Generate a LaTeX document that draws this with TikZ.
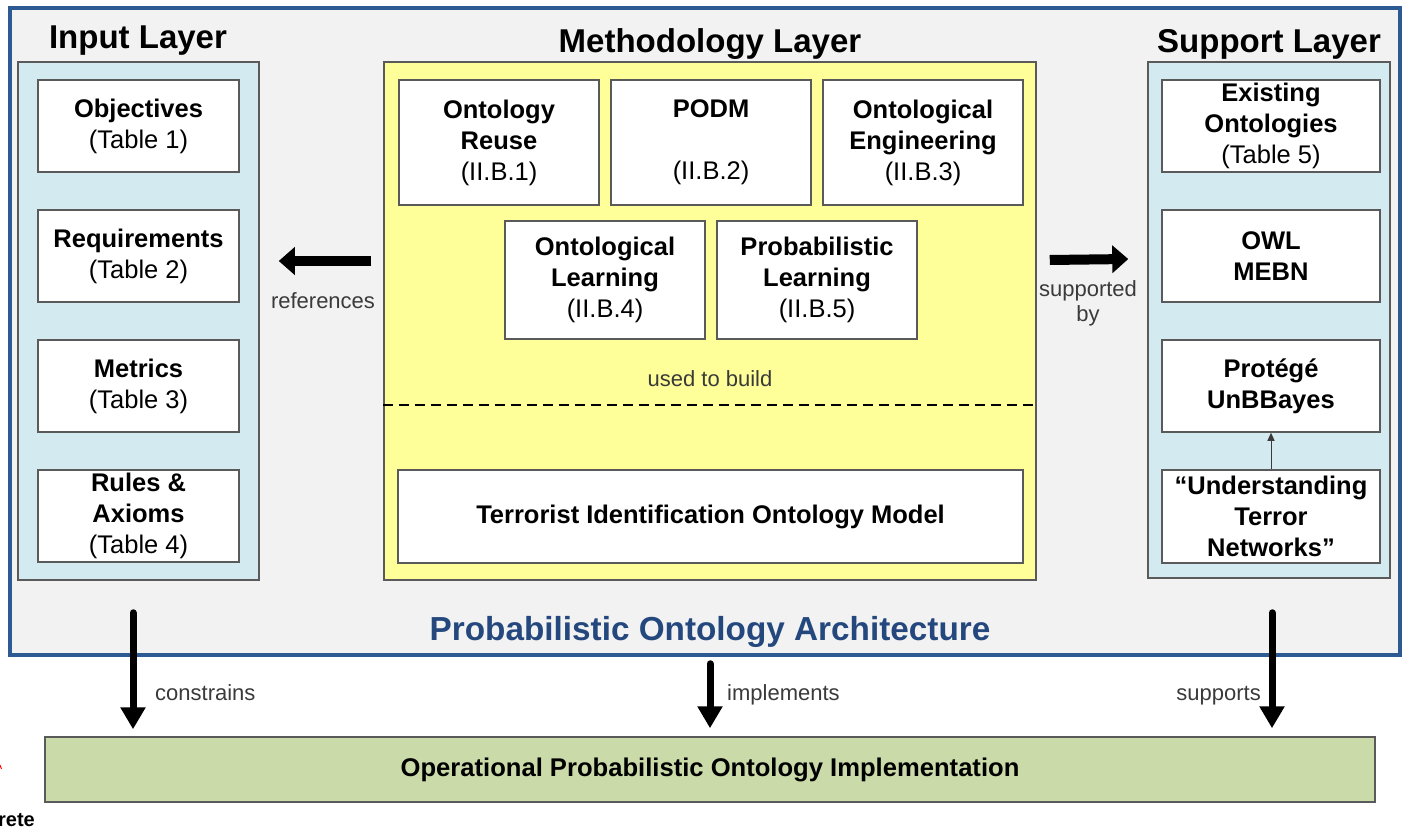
\documentclass[tikz,border=0pt]{standalone}
\usepackage{fontspec}
\setmainfont{Liberation Sans}
\usetikzlibrary{arrows.meta,calc}
\definecolor{bgray}{HTML}{F2F2F2}
\definecolor{fblue}{HTML}{2E5A94}
\definecolor{tblue}{HTML}{24487E}
\definecolor{lblue}{HTML}{D3EAF0}
\definecolor{lyellow}{HTML}{FFFF99}
\definecolor{lgreen}{HTML}{CADAA8}
\definecolor{bordergray}{HTML}{5A5A5A}
\definecolor{labgray}{HTML}{3A3A3A}
\tikzset{
  layer/.style={draw=bordergray, line width=1.5pt, inner sep=0pt},
  ibox/.style={draw=bordergray, line width=1.5pt, fill=white, align=center, inner sep=0pt,
    font=\fontsize{25.5}{31}\selectfont},
  heading/.style={font=\fontsize{33}{38}\selectfont\bfseries, anchor=base},
  lab/.style={font=\fontsize{22}{25}\selectfont, text=labgray, inner sep=0pt},
  varrow/.style={line width=7pt, line cap=round, -{Triangle[length=22pt,width=24pt]}},
  harrow/.style={line width=10pt, -{Triangle[length=16pt,width=27pt]}},
  sarrow/.style={line width=1pt, draw=labgray, -{Triangle[length=8pt,width=7pt]}}
}
\begin{document}
\begin{tikzpicture}[x=1pt,y=-1pt]
\useasboundingbox (0,0) rectangle (1402,829);
\fill[white] (0,0) rectangle (1402,829);
% outer frame
\node[draw=fblue, fill=bgray, line width=3.5pt, minimum width=1390pt, minimum height=647pt, inner sep=0pt] (frame) at (705,331.5) {};
% layers
\node[layer, fill=lblue, minimum width=241pt, minimum height=518pt] (inp) at (138.5,321) {};
\node[layer, fill=lyellow, minimum width=652pt, minimum height=518pt] (meth) at (710,321) {};
\node[layer, fill=lblue, minimum width=242pt, minimum height=516pt] (sup) at (1269,320) {};
% headings
\node[heading] (hin) at (138,49) {Input Layer};
\node[heading] (hme) at (710,53) {Methodology Layer};
\node[heading] (hsu) at (1269,53) {Support Layer};
% input boxes
\node[ibox, minimum width=201pt, minimum height=92pt] (obj) at (138.5,126) {\textbf{Objectives}\\(Table 1)};
\node[ibox, minimum width=201pt, minimum height=92pt] (req) at (138.5,256) {\textbf{Requirements}\\(Table 2)};
\node[ibox, minimum width=201pt, minimum height=92pt] (met) at (138.5,386) {\textbf{Metrics}\\(Table 3)};
\node[ibox, minimum width=201pt, minimum height=92pt] (rul) at (138.5,516) {\textbf{Rules \&}\\\textbf{Axioms}\\(Table 4)};
% methodology boxes
\node[ibox, minimum width=200pt, minimum height=125pt] (reuse) at (499,142.5) {\textbf{Ontology}\\\textbf{Reuse}\\(II.B.1)};
\node[ibox, minimum width=200pt, minimum height=125pt] (podm) at (711,142.5) {\textbf{PODM}\\\mbox{}\\(II.B.2)};
\node[ibox, minimum width=200pt, minimum height=125pt] (oeng) at (923,142.5) {\textbf{Ontological}\\\textbf{Engineering}\\(II.B.3)};
\node[ibox, minimum width=200pt, minimum height=118pt] (olearn) at (605,280) {\textbf{Ontological}\\\textbf{Learning}\\(II.B.4)};
\node[ibox, minimum width=200pt, minimum height=118pt] (plearn) at (817,280) {\textbf{Probabilistic}\\\textbf{Learning}\\(II.B.5)};
\node[lab, anchor=base] (used) at (710,386) {used to build};
\draw[line width=1.3pt, dash pattern=on 10pt off 6pt] ([yshift=-84pt]meth.west) -- ([yshift=-84pt]meth.east);
\node[ibox, minimum width=625pt, minimum height=93pt] (tiom) at (710.5,516.5) {\textbf{Terrorist Identification Ontology Model}};
% support boxes
\node[ibox, minimum width=218pt, minimum height=92pt] (exo) at (1271,126) {\textbf{Existing}\\\textbf{Ontologies}\\(Table 5)};
\node[ibox, minimum width=218pt, minimum height=92pt] (owl) at (1271,256) {\textbf{OWL}\\\textbf{MEBN}};
\node[ibox, minimum width=218pt, minimum height=92pt] (prot) at (1271,386) {\textbf{Protégé}\\\textbf{UnBBayes}};
\node[ibox, minimum width=218pt, minimum height=93pt] (und) at (1271,516.5) {\textbf{“Understanding}\\\textbf{Terror}\\\textbf{Networks”}};
\draw[sarrow] (und.north) -- (prot.south);
% horizontal arrows
\draw[harrow] ([shift={(-12,-60)}]meth.west) -- ([shift={(19,-60)}]inp.east);
\node[lab, anchor=base] (lref) at (323,308) {references};
\draw[harrow] ([shift={(13,-61)}]meth.east) -- ([shift={(-19,-61)}]sup.west);
\node[lab, align=center, anchor=north] (lsup) at (1088,280) {supported\\by};
% title
\node[font=\fontsize{33.3}{38}\selectfont\bfseries, text=tblue, anchor=base] (title) at (710,640) {Probabilistic Ontology Architecture};
% green box
\node[layer, fill=lgreen, minimum width=1330pt, minimum height=65pt, font=\fontsize{25.6}{30}\selectfont\bfseries] (impl) at (710,769.5) {Operational Probabilistic Ontology Implementation};
% down arrows
\coordinate (c1) at ($(inp.south)+(-5.5,32)$);
\coordinate (c2) at ($(meth.south |- frame.south)+(0,7)$);
\coordinate (c3) at ($(sup.south)+(3,34)$);
\draw[varrow, shorten >=7pt] (c1) -- (c1 |- impl.north);
\draw[varrow, shorten >=8pt] (c2) -- (c2 |- impl.north);
\draw[varrow, shorten >=8pt] (c3) -- (c3 |- impl.north);
\node[lab, anchor=base west] (lcon) at (155,700) {constrains};
\node[lab, anchor=base west] (limp) at (727,700) {implements};
\node[lab, anchor=base east] (lsupp) at (1261,700) {supports};
% cut-off bits at the left edge
\draw[red, line width=1pt] (0,765) -- (1.5,769);
\node[font=\fontsize{20}{22}\selectfont\bfseries, anchor=base east, inner sep=0pt] (rete) at (35,826) {rete};
\end{tikzpicture}
\end{document}
